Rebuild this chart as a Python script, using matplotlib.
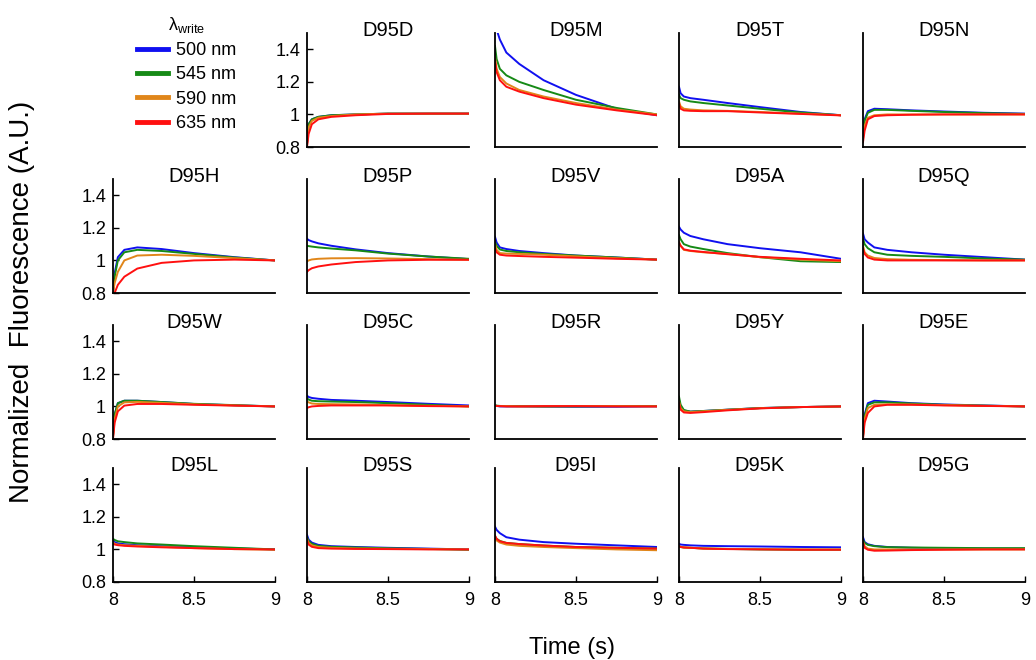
import matplotlib
matplotlib.use("Agg")
import matplotlib.pyplot as plt
from matplotlib.lines import Line2D

plt.rcParams['font.family'] = ['Liberation Sans', 'DejaVu Sans']
plt.rcParams['mathtext.fontset'] = 'custom'
plt.rcParams['mathtext.rm'] = 'Liberation Sans'

W, H = 1036, 660

time = [8.0, 8.01, 8.03, 8.07, 8.15, 8.3, 8.5, 8.75, 9.0]

wavelengths = ['500 nm', '545 nm', '590 nm', '635 nm']
colors = ['#1010f0', '#168a16', '#e0861a', '#ff1010']

# panel order: row by row, first cell of the grid holds the legend
mutants = ['D95D', 'D95M', 'D95T', 'D95N',
           'D95H', 'D95P', 'D95V', 'D95A', 'D95Q',
           'D95W', 'D95C', 'D95R', 'D95Y', 'D95E',
           'D95L', 'D95S', 'D95I', 'D95K', 'D95G']

# normalized fluorescence, one list per wavelength (500, 545, 590, 635 nm)
D95D = [[0.82, 0.94, 0.97, 0.985, 0.995, 1.0, 1.005, 1.005, 1.005],
        [0.82, 0.94, 0.97, 0.985, 0.995, 1.0, 1.005, 1.005, 1.005],
        [0.81, 0.92, 0.96, 0.98, 0.99, 1.0, 1.005, 1.005, 1.005],
        [0.80, 0.88, 0.94, 0.97, 0.985, 0.995, 1.003, 1.005, 1.005]]
D95M = [[1.60, 1.52, 1.46, 1.38, 1.31, 1.21, 1.12, 1.035, 0.995],
        [1.42, 1.34, 1.28, 1.24, 1.20, 1.15, 1.09, 1.04, 1.0],
        [1.35, 1.28, 1.23, 1.19, 1.15, 1.11, 1.07, 1.03, 1.0],
        [1.33, 1.26, 1.21, 1.17, 1.14, 1.10, 1.06, 1.025, 0.995]]
D95T = [[1.17, 1.13, 1.11, 1.10, 1.09, 1.07, 1.045, 1.015, 0.995],
        [1.12, 1.10, 1.09, 1.08, 1.07, 1.055, 1.035, 1.012, 0.995],
        [1.08, 1.05, 1.035, 1.03, 1.025, 1.022, 1.015, 1.005, 0.995],
        [1.065, 1.035, 1.025, 1.022, 1.02, 1.02, 1.012, 1.003, 0.994]]
D95N = [[0.88, 0.97, 1.02, 1.035, 1.032, 1.025, 1.018, 1.01, 1.005],
        [0.87, 0.96, 1.01, 1.028, 1.028, 1.022, 1.015, 1.008, 1.003],
        [0.85, 0.93, 0.98, 0.995, 1.0, 1.0, 1.0, 1.0, 1.0],
        [0.83, 0.90, 0.97, 0.99, 0.995, 0.998, 1.0, 1.0, 1.0]]
D95H = [[0.80, 0.92, 1.02, 1.065, 1.08, 1.07, 1.045, 1.02, 1.0],
        [0.80, 0.90, 1.0, 1.05, 1.065, 1.058, 1.04, 1.018, 1.0],
        [0.80, 0.86, 0.93, 1.0, 1.03, 1.035, 1.028, 1.014, 1.0],
        [0.78, 0.80, 0.85, 0.90, 0.95, 0.985, 1.0, 1.005, 1.0]]
D95P = [[1.133, 1.125, 1.117, 1.105, 1.09, 1.068, 1.045, 1.024, 1.008],
        [1.09, 1.088, 1.085, 1.08, 1.073, 1.062, 1.042, 1.024, 1.01],
        [0.994, 1.0, 1.006, 1.01, 1.013, 1.014, 1.012, 1.008, 1.004],
        [0.93, 0.94, 0.952, 0.963, 0.975, 0.99, 1.0, 1.004, 1.004]]
D95V = [[1.145, 1.11, 1.08, 1.07, 1.058, 1.045, 1.03, 1.018, 1.005],
        [1.114, 1.09, 1.067, 1.058, 1.05, 1.04, 1.03, 1.018, 1.005],
        [1.10, 1.065, 1.045, 1.042, 1.04, 1.035, 1.025, 1.014, 1.005],
        [1.073, 1.05, 1.035, 1.03, 1.027, 1.022, 1.017, 1.01, 1.005]]
D95A = [[1.207, 1.19, 1.17, 1.15, 1.13, 1.1, 1.075, 1.05, 1.01],
        [1.155, 1.13, 1.1, 1.085, 1.07, 1.045, 1.02, 0.995, 0.99],
        [1.114, 1.09, 1.065, 1.058, 1.05, 1.04, 1.02, 1.005, 0.995],
        [1.108, 1.09, 1.068, 1.06, 1.052, 1.038, 1.022, 1.01, 1.0]]
D95Q = [[1.165, 1.13, 1.11, 1.08, 1.065, 1.05, 1.035, 1.02, 1.005],
        [1.135, 1.1, 1.075, 1.05, 1.035, 1.028, 1.022, 1.012, 1.005],
        [1.09, 1.05, 1.03, 1.015, 1.008, 1.004, 1.002, 1.0, 1.0],
        [1.073, 1.04, 1.018, 1.005, 1.0, 1.0, 1.0, 1.0, 1.0]]
D95W = [[0.82, 0.95, 1.02, 1.035, 1.035, 1.027, 1.015, 1.007, 1.0],
        [0.82, 0.95, 1.02, 1.035, 1.035, 1.027, 1.016, 1.008, 1.0],
        [0.81, 0.92, 1.0, 1.025, 1.028, 1.022, 1.013, 1.006, 1.0],
        [0.80, 0.90, 0.97, 1.005, 1.015, 1.015, 1.01, 1.005, 1.0]]
D95C = [[1.066, 1.058, 1.052, 1.047, 1.04, 1.035, 1.027, 1.016, 1.006],
        [1.05, 1.042, 1.035, 1.032, 1.03, 1.027, 1.02, 1.01, 1.0],
        [1.03, 1.025, 1.018, 1.015, 1.014, 1.012, 1.008, 1.004, 1.0],
        [0.99, 0.995, 1.0, 1.003, 1.006, 1.006, 1.006, 1.002, 1.0]]
D95R = [[1.005, 1.003, 1.0, 1.0, 1.0, 0.998, 0.998, 0.998, 1.0],
        [1.008, 1.005, 1.003, 1.002, 1.002, 1.0, 1.0, 1.002, 1.002],
        [1.005, 1.003, 1.002, 1.002, 1.0, 1.0, 1.002, 1.002, 1.0],
        [1.005, 1.003, 1.002, 1.0, 1.0, 1.002, 1.002, 1.0, 1.0]]
D95Y = [[1.04, 1.0, 0.975, 0.968, 0.972, 0.98, 0.99, 0.996, 1.0],
        [1.06, 1.01, 0.978, 0.968, 0.972, 0.98, 0.99, 0.996, 1.0],
        [1.03, 0.99, 0.97, 0.965, 0.97, 0.979, 0.989, 0.996, 1.0],
        [1.02, 0.98, 0.963, 0.96, 0.965, 0.976, 0.988, 0.996, 1.0]]
D95E = [[0.82, 0.95, 1.02, 1.035, 1.03, 1.02, 1.012, 1.006, 1.0],
        [0.82, 0.94, 1.01, 1.025, 1.025, 1.018, 1.01, 1.005, 1.0],
        [0.81, 0.92, 0.99, 1.01, 1.013, 1.012, 1.008, 1.004, 1.0],
        [0.80, 0.90, 0.96, 1.0, 1.01, 1.01, 1.006, 1.003, 1.0]]
D95L = [[1.055, 1.045, 1.037, 1.032, 1.026, 1.02, 1.014, 1.006, 1.0],
        [1.065, 1.058, 1.05, 1.045, 1.037, 1.03, 1.02, 1.01, 1.0],
        [1.045, 1.035, 1.03, 1.026, 1.022, 1.016, 1.008, 1.002, 0.998],
        [1.035, 1.03, 1.026, 1.022, 1.018, 1.013, 1.008, 1.002, 1.0]]
D95S = [[1.09, 1.06, 1.042, 1.028, 1.02, 1.015, 1.01, 1.005, 1.0],
        [1.075, 1.05, 1.035, 1.022, 1.016, 1.012, 1.007, 1.003, 0.998],
        [1.065, 1.04, 1.025, 1.015, 1.01, 1.006, 1.004, 1.002, 1.0],
        [1.055, 1.03, 1.016, 1.008, 1.005, 1.003, 1.002, 1.0, 1.0]]
D95I = [[1.14, 1.12, 1.1, 1.075, 1.06, 1.045, 1.035, 1.025, 1.015],
        [1.08, 1.065, 1.052, 1.04, 1.033, 1.024, 1.015, 1.01, 1.005],
        [1.07, 1.055, 1.042, 1.03, 1.022, 1.015, 1.008, 1.0, 0.995],
        [1.085, 1.065, 1.05, 1.04, 1.033, 1.024, 1.015, 1.01, 1.005]]
D95K = [[1.035, 1.03, 1.028, 1.025, 1.022, 1.02, 1.018, 1.015, 1.013],
        [1.02, 1.015, 1.012, 1.01, 1.006, 1.003, 1.0, 0.998, 0.998],
        [1.02, 1.015, 1.012, 1.01, 1.006, 1.003, 1.002, 1.0, 1.0],
        [1.02, 1.015, 1.012, 1.01, 1.005, 1.002, 1.0, 0.998, 0.998]]
D95G = [[1.075, 1.045, 1.032, 1.022, 1.015, 1.01, 1.007, 1.005, 1.004],
        [1.06, 1.04, 1.028, 1.02, 1.014, 1.012, 1.01, 1.008, 1.008],
        [1.045, 1.02, 1.005, 1.0, 1.0, 1.0, 1.0, 1.0, 1.0],
        [1.045, 1.01, 0.998, 0.992, 0.993, 0.996, 0.998, 1.0, 1.0]]

traces = [D95D, D95M, D95T, D95N, D95H, D95P, D95V, D95A, D95Q,
          D95W, D95C, D95R, D95Y, D95E, D95L, D95S, D95I, D95K, D95G]

col_left = [113, 307, 495, 679, 863]
row_top = [33, 179, 325, 468]
pw, ph = 162, 114

fig = plt.figure(figsize=(W / 100, H / 100), dpi=100)

cells = [(r, c) for r in range(4) for c in range(5)][1:]
for (r, c), name, data in zip(cells, mutants, traces):
    ax = fig.add_axes([col_left[c] / W, 1 - (row_top[r] + ph) / H, pw / W, ph / H])
    for y, col in zip(data, colors):
        ax.plot(time, y, color=col, lw=1.4)
    ax.set_xlim(8, 9)
    ax.set_ylim(0.8, 1.5)
    for s in ['top', 'right']:
        ax.spines[s].set_visible(False)
    for s in ['left', 'bottom']:
        ax.spines[s].set_linewidth(1.3)
    ax.tick_params(direction='in', length=4, width=1, labelsize=13)
    if c == 0 or (r == 0 and c == 1):
        ax.set_yticks([0.8, 1.0, 1.2, 1.4])
        ax.set_yticklabels(['0.8', '1', '1.2', '1.4'])
        ax.tick_params(axis='y', pad=5)
    else:
        ax.set_yticks([])
    if r == 3:
        ax.set_xticks([8, 8.5, 9])
        ax.set_xticklabels(['8', '8.5', '9'])
        ax.tick_params(axis='x', pad=7)
    else:
        ax.set_xticks([])
    ax.text(0.5, 1 - 3 / ph, name, transform=ax.transAxes, ha='center',
            va='baseline', fontsize=14.5)

handles = [Line2D([], [], color=col, lw=3.5) for col in colors]
fig.legend(handles, wavelengths, loc='upper left', bbox_to_anchor=(128 / W, 1 - 6 / H),
           frameon=False, fontsize=13, title='λ$_{\\mathrm{write}}$', title_fontsize=13,
           handlelength=1.7, handletextpad=0.45, labelspacing=0.4, borderpad=0)

fig.text(22 / W, 1 - 302 / H, 'Normalized  Fluorescence (A.U.)', rotation=90,
         ha='center', va='center', fontsize=20)
fig.text(572 / W, 1 - 648 / H, 'Time (s)', ha='center', va='center', fontsize=17)

fig.savefig('out.png', dpi=100)
